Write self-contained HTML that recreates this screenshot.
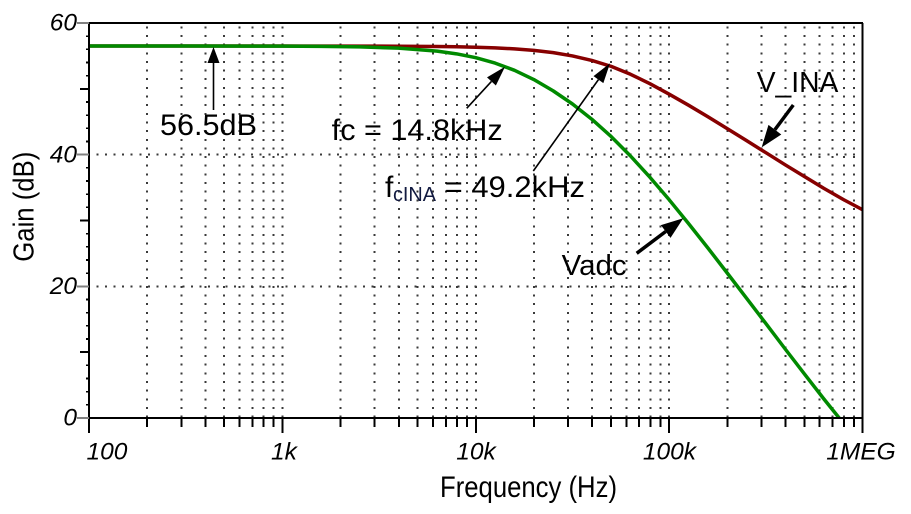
<!DOCTYPE html>
<html>
<head>
<meta charset="utf-8">
<style>
  html, body { margin: 0; padding: 0; background: #ffffff; }
  svg { display: block; }
  text { font-family: "Liberation Sans", Arial, sans-serif; fill: #000; }
  .tl { font-style: italic; font-size: 24.5px; }
</style>
</head>
<body>
<svg width="911" height="514" viewBox="0 0 911 514" xmlns="http://www.w3.org/2000/svg">
  <rect x="0" y="0" width="911" height="514" fill="#ffffff"/>
  <defs>
    <clipPath id="plot">
      <rect x="89" y="23" width="773.7" height="395"/>
    </clipPath>
    <g id="dec">
      <g stroke="#3a3a3a" stroke-width="2" stroke-dasharray="2 6.65" shape-rendering="crispEdges">
        <line x1="58.22" y1="26.3" x2="58.22" y2="417"/>
        <line x1="92.28" y1="26.3" x2="92.28" y2="417"/>
        <line x1="116.44" y1="26.3" x2="116.44" y2="417"/>
        <line x1="135.18" y1="26.3" x2="135.18" y2="417"/>
        <line x1="150.49" y1="26.3" x2="150.49" y2="417"/>
        <line x1="163.44" y1="26.3" x2="163.44" y2="417"/>
        <line x1="174.66" y1="26.3" x2="174.66" y2="417"/>
        <line x1="184.55" y1="26.3" x2="184.55" y2="417"/>
      </g>
      <g stroke="#000" stroke-width="2" shape-rendering="crispEdges">
        <line x1="58.22" y1="418" x2="58.22" y2="427"/>
        <line x1="92.28" y1="418" x2="92.28" y2="427"/>
        <line x1="116.44" y1="418" x2="116.44" y2="427"/>
        <line x1="135.18" y1="418" x2="135.18" y2="427"/>
        <line x1="150.49" y1="418" x2="150.49" y2="427"/>
        <line x1="163.44" y1="418" x2="163.44" y2="427"/>
        <line x1="174.66" y1="418" x2="174.66" y2="427"/>
        <line x1="184.55" y1="418" x2="184.55" y2="427"/>
      </g>
    </g>
  </defs>

  <!-- grid -->
  <use href="#dec" transform="translate(89,0)"/>
  <use href="#dec" transform="translate(282.4,0)"/>
  <use href="#dec" transform="translate(475.8,0)"/>
  <use href="#dec" transform="translate(669.2,0)"/>
  <g stroke="#3a3a3a" stroke-width="2" stroke-dasharray="2 6.65" shape-rendering="crispEdges">
    <line x1="282.4" y1="26.3" x2="282.4" y2="417"/>
    <line x1="475.8" y1="26.3" x2="475.8" y2="417"/>
    <line x1="669.2" y1="26.3" x2="669.2" y2="417"/>
  </g>
  <g stroke="#3a3a3a" stroke-width="2" stroke-dasharray="2 6.6" shape-rendering="crispEdges">
    <line x1="96.3" y1="154.67" x2="861" y2="154.67"/>
    <line x1="96.3" y1="286.33" x2="861" y2="286.33"/>
  </g>

  <!-- curves -->
  <g clip-path="url(#plot)" fill="none" stroke-width="3.5" stroke-linejoin="round" stroke-linecap="round">
    <polyline stroke="#870000" points="89,46.04 282.4,46.04 359.8,46.11 398.4,46.22 437.1,46.51 456.5,46.77 475.8,47.19 495.1,47.86 514.5,48.87 533.8,50.39 553.2,52.66 572.5,55.92 591.8,60.43 611.2,66.38 630.5,74.3 649.9,83.7 669.2,94.2 688.5,105.2 707.9,116.8 727.2,128.6 746.6,140.6 765.9,152.7 785.2,164.8 804.6,176.63 823.9,188.37 843.3,199.50 862.6,209.75 870,214"/>
    <polyline stroke="#008a00" points="89,46.04 185.7,46.05 282.4,46.17 321.1,46.38 359.8,46.89 398.4,48.16 437.1,51.16 456.5,53.83 475.8,57.70 495.1,63.10 514.5,70.30 533.8,79.52 553.2,90.87 572.5,104.0 591.8,119.2 611.2,136.6 630.5,156.0 649.9,177.2 669.2,199.8 688.5,223.5 707.9,248.0 727.2,273.0 746.6,298.3 765.9,323.6 785.2,349.0 804.6,374.2 823.9,399.0 840,419 843,423"/>
  </g>

  <!-- axes frame -->
  <g stroke="#000" stroke-width="2" fill="none" shape-rendering="crispEdges">
    <line x1="89" y1="23" x2="863" y2="23"/>
    <line x1="862.7" y1="23" x2="862.7" y2="419"/>
    <line x1="89" y1="22" x2="89" y2="419"/>
    <line x1="88" y1="418" x2="863" y2="418"/>
  </g>

  <!-- x major ticks -->
  <g stroke="#000" stroke-width="2" shape-rendering="crispEdges">
    <line x1="89" y1="418" x2="89" y2="433"/>
    <line x1="282.4" y1="418" x2="282.4" y2="433"/>
    <line x1="475.8" y1="418" x2="475.8" y2="433"/>
    <line x1="669.2" y1="418" x2="669.2" y2="433"/>
    <line x1="862.6" y1="418" x2="862.6" y2="433"/>
  </g>

  <!-- y ticks -->
  <path stroke="#000" stroke-width="1.6" fill="none" shape-rendering="crispEdges"
    d="M86 404.83h3M86 391.67h3M86 378.5h3M86 365.33h3M86 339h3M86 325.83h3M86 312.67h3M86 299.5h3M86 273.17h3M86 260h3M86 246.83h3M86 233.67h3M86 207.33h3M86 194.17h3M86 181h3M86 167.83h3M86 141.5h3M86 128.33h3M86 115.17h3M86 102h3M86 75.67h3M86 62.5h3M86 49.33h3M86 36.17h3"/>
  <path stroke="#000" stroke-width="2" fill="none" shape-rendering="crispEdges"
    d="M80 352.17h9M80 220.5h9M80 88.83h9"/>
  <path stroke="#808080" stroke-width="2" fill="none" shape-rendering="crispEdges"
    d="M77 418h12M77 286.33h12M77 154.67h12M77 23h12"/>

  <!-- tick labels -->
  <g class="tl">
    <text x="77" y="30.5" text-anchor="end">60</text>
    <text x="77" y="162.5" text-anchor="end">40</text>
    <text x="77" y="294" text-anchor="end">20</text>
    <text x="77" y="425.5" text-anchor="end">0</text>
    <text x="86.5" y="459.5">100</text>
    <text x="284" y="459.5" text-anchor="middle">1k</text>
    <text x="476" y="459.5" text-anchor="middle">10k</text>
    <text x="669.5" y="459.5" text-anchor="middle">100k</text>
    <text x="861" y="459.5" text-anchor="middle">1MEG</text>
  </g>

  <!-- axis titles -->
  <text transform="translate(440,497) scale(1,1.15)" font-size="25.5" textLength="177" lengthAdjust="spacingAndGlyphs">Frequency (Hz)</text>
  <text transform="translate(33.5,261.7) rotate(-90) scale(1,1.1)" font-size="26" textLength="110" lengthAdjust="spacingAndGlyphs">Gain (dB)</text>

  <!-- annotations text -->
  <text x="160" y="135" font-size="30" textLength="97" lengthAdjust="spacingAndGlyphs">56.5dB</text>
  <text x="331.7" y="140" font-size="30" textLength="171" lengthAdjust="spacingAndGlyphs">fc = 14.8kHz</text>
  <text x="385" y="197" font-size="30">f</text>
  <text x="393" y="201" font-size="20" textLength="43" lengthAdjust="spacingAndGlyphs" style="fill:#121a40">cINA</text>
  <text x="436" y="197" font-size="30" textLength="149" lengthAdjust="spacingAndGlyphs" xml:space="preserve"> = 49.2kHz</text>
  <text x="756.7" y="92" font-size="28.5" textLength="81.6" lengthAdjust="spacingAndGlyphs">V_INA</text>
  <text x="561.7" y="275" font-size="28.5" textLength="65" lengthAdjust="spacingAndGlyphs">Vadc</text>

  <!-- arrows -->
  <g stroke="#000" fill="none">
    <line x1="213.5" y1="110" x2="213.5" y2="62" stroke-width="1.6"/>
    <line x1="466.7" y1="108.3" x2="491.44" y2="81.42" stroke-width="1.6"/>
    <line x1="533.3" y1="171" x2="598.44" y2="79.62" stroke-width="1.6"/>
    <line x1="793.3" y1="105" x2="774.88" y2="129.68" stroke-width="3.5"/>
    <line x1="636.7" y1="253.3" x2="665.7" y2="231.5" stroke-width="3.5"/>
  </g>
  <g fill="#000" stroke="none">
    <polygon points="213.5,47 207.5,63 219.5,63"/>
    <polygon points="505,66.7 495.86,85.49 487.02,77.35"/>
    <polygon points="610,63.3 603.34,83.09 593.54,76.15"/>
    <polygon points="761.7,147.3 781.29,134.47 768.47,124.89"/>
    <polygon points="683.3,218.3 670.5,237.9 660.9,225.1"/>
  </g>
</svg>
</body>
</html>
